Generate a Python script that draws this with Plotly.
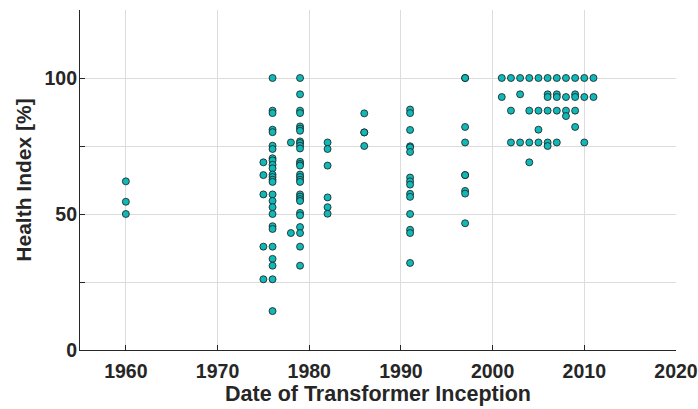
import plotly.graph_objects as go

# Health index values per inception year
hi_1960 = [62, 54.5, 50]
hi_1975 = [69, 64.3, 57.2, 38, 26]
hi_1976 = [100, 88, 87.1, 81, 80.1, 75.1, 73.9, 70.5, 69.7, 68.1, 66.8, 64.5, 63.6,
           62.6, 61.8, 57.2, 54.8, 52.5, 50, 45.5, 44.5, 38, 33.5, 31, 26, 14.3]
hi_1978 = [76.3, 43]
hi_1979 = [100, 94, 88, 87.1, 82.2, 81.4, 80.6, 76.7, 76.1, 75.1, 74.1, 69.2, 68.4,
           67.8, 64.5, 63.6, 62.6, 61.8, 57.2, 56.4, 55.5, 54.8, 50.4, 49.5, 45.2, 43, 38, 31]
hi_1982 = [76.3, 73.9, 67.8, 56.1, 52.5, 50.1]
hi_1986 = [87, 80, 80, 75]
hi_1991 = [88.4, 87.1, 80.9, 74.9, 74.5, 72.8, 63.4, 62, 60.8, 57.4, 56.3, 50, 44.2, 43, 32]
hi_1997 = [100, 100, 82, 76.3, 64.3, 64.3, 58.5, 57.5, 46.6]
hi_2001 = [100, 93]
hi_2002 = [100, 88, 76.3]
hi_2003 = [100, 94, 76.3]
hi_2004 = [100, 88, 76.3, 69]
hi_2005 = [100, 88, 81, 76.3]
hi_2006 = [100, 94, 93, 88, 76.3, 75]
hi_2007 = [100, 94, 93, 88, 76.3]
hi_2008 = [100, 93, 88, 86]
hi_2009 = [100, 94, 93, 88, 82]
hi_2010 = [100, 93, 76.3]
hi_2011 = [100, 93]

groups = {
    1960: hi_1960, 1975: hi_1975, 1976: hi_1976, 1978: hi_1978, 1979: hi_1979,
    1982: hi_1982, 1986: hi_1986, 1991: hi_1991, 1997: hi_1997, 2001: hi_2001,
    2002: hi_2002, 2003: hi_2003, 2004: hi_2004, 2005: hi_2005, 2006: hi_2006,
    2007: hi_2007, 2008: hi_2008, 2009: hi_2009, 2010: hi_2010, 2011: hi_2011,
}

x_ticks = [1960, 1970, 1980, 1990, 2000, 2010, 2020]
y_ticks = [0, 25, 50, 75, 100, 125]
y_ticktext = ["0", "", "50", "", "100", ""]

years = []
values = []
for yr, vals in groups.items():
    years += [yr] * len(vals)
    values += vals

TXT = "#262626"
FONT = "Liberation Sans, Arial, sans-serif"

fig = go.Figure(go.Scatter(
    x=years, y=values, mode="markers",
    marker=dict(size=7, color="rgb(16,184,184)",
                line=dict(color="#1a1a1a", width=0.8)),
    hoverinfo="x+y",
))

fig.update_layout(
    width=698, height=409,
    margin=dict(l=80, r=22, t=10, b=59),
    plot_bgcolor="white", paper_bgcolor="white",
    showlegend=False,
    font=dict(family=FONT, color=TXT, size=19.5, weight="bold"),
)
fig.update_xaxes(
    range=[1955, 2020], tickvals=x_ticks,
    showgrid=True, gridcolor="#dcdcdc", gridwidth=1,
    showline=True, linecolor=TXT, linewidth=1.2, mirror=False,
    ticks="inside", ticklen=5, tickcolor=TXT, tickwidth=1,
    zeroline=False, automargin=False,
    tickfont=dict(size=19.5, family=FONT, color=TXT, weight="bold"),
    ticklabelstandoff=3,
    title=dict(text="Date of Transformer Inception",
               font=dict(size=21.5, family=FONT, color=TXT, weight="bold"),
               standoff=5),
)
fig.update_yaxes(
    range=[0, 125], tickvals=y_ticks, ticktext=y_ticktext,
    showgrid=True, gridcolor="#dcdcdc", gridwidth=1,
    showline=True, linecolor=TXT, linewidth=1.2, mirror=False,
    ticks="inside", ticklen=5, tickcolor=TXT, tickwidth=1,
    zeroline=False, automargin=False,
    tickfont=dict(size=19.5, family=FONT, color=TXT, weight="bold"),
    ticklabelstandoff=-2,
    title=dict(text="Health Index [%]",
               font=dict(size=21, family=FONT, color=TXT, weight="bold"),
               standoff=7),
)

fig.write_html(
    "out.html",
    config={"displayModeBar": False},
    post_script="document.body.style.margin='0';document.body.style.overflow='hidden';",
)
